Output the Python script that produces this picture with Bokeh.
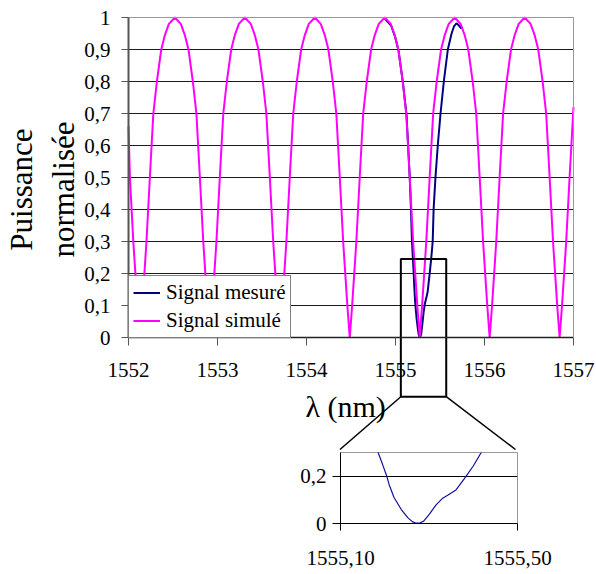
import math
from bokeh.plotting import figure
from bokeh.layouts import column, row
from bokeh.models import (FixedTicker, LinearAxis, Legend, LegendItem, Range1d,
                          ColumnDataSource, Grid, Label, Spacer)
from bokeh.embed import file_html
from bokeh.resources import INLINE

# ---------------- data ----------------
# Simulated signal (magenta)
sim_x = [
    1552.000, 1552.016, 1552.054, 1552.101,
    1552.128, 1552.155, 1552.202, 1552.240, 1552.279, 1552.319, 1552.368, 1552.409, 1552.454,
    1552.521, 1552.588, 1552.633, 1552.674, 1552.723, 1552.763, 1552.802, 1552.840, 1552.887,
    1552.914, 1552.941, 1552.988, 1553.026, 1553.065, 1553.105, 1553.154, 1553.195, 1553.240,
    1553.307, 1553.374, 1553.419, 1553.460, 1553.509, 1553.549, 1553.588, 1553.626, 1553.673,
    1553.700, 1553.727, 1553.774, 1553.812, 1553.851, 1553.891, 1553.940, 1553.981, 1554.026,
    1554.093, 1554.160, 1554.205, 1554.246, 1554.295, 1554.335, 1554.374, 1554.412, 1554.459,
    1554.486, 1554.513, 1554.560, 1554.598, 1554.637, 1554.677, 1554.726, 1554.767, 1554.812,
    1554.879, 1554.946, 1554.991, 1555.032, 1555.081, 1555.121, 1555.160, 1555.198, 1555.245,
    1555.272, 1555.299, 1555.346, 1555.384, 1555.423, 1555.463, 1555.512, 1555.553, 1555.598,
    1555.665, 1555.732, 1555.777, 1555.818, 1555.867, 1555.907, 1555.946, 1555.984, 1556.031,
    1556.058, 1556.085, 1556.132, 1556.170, 1556.209, 1556.249, 1556.298, 1556.339, 1556.384,
    1556.451, 1556.518, 1556.563, 1556.604, 1556.653, 1556.693, 1556.732, 1556.770, 1556.817,
    1556.844, 1556.871, 1556.918, 1556.956, 1557.000,
]
sim_y = [
    0.66, 0.50, 0.30, 0.10,
    0.0, 0.10, 0.30, 0.50, 0.70, 0.80, 0.90, 0.945, 0.98,
    1.0, 0.98, 0.945, 0.90, 0.80, 0.70, 0.50, 0.30, 0.10,
    0.0, 0.10, 0.30, 0.50, 0.70, 0.80, 0.90, 0.945, 0.98,
    1.0, 0.98, 0.945, 0.90, 0.80, 0.70, 0.50, 0.30, 0.10,
    0.0, 0.10, 0.30, 0.50, 0.70, 0.80, 0.90, 0.945, 0.98,
    1.0, 0.98, 0.945, 0.90, 0.80, 0.70, 0.50, 0.30, 0.10,
    0.0, 0.10, 0.30, 0.50, 0.70, 0.80, 0.90, 0.945, 0.98,
    1.0, 0.98, 0.945, 0.90, 0.80, 0.70, 0.50, 0.30, 0.10,
    0.0, 0.10, 0.30, 0.50, 0.70, 0.80, 0.90, 0.945, 0.98,
    1.0, 0.98, 0.945, 0.90, 0.80, 0.70, 0.50, 0.30, 0.10,
    0.0, 0.10, 0.30, 0.50, 0.70, 0.80, 0.90, 0.945, 0.98,
    1.0, 0.98, 0.945, 0.90, 0.80, 0.70, 0.50, 0.30, 0.10,
    0.0, 0.10, 0.30, 0.50, 0.72,
]

# Measured signal (navy)
mes_x = [1554.885, 1554.950, 1554.995, 1555.035, 1555.084, 1555.124, 1555.142, 1555.160,
         1555.174, 1555.185, 1555.195, 1555.204, 1555.210, 1555.221, 1555.237, 1555.252,
         1555.262, 1555.270, 1555.280, 1555.288, 1555.301, 1555.316, 1555.331, 1555.343,
         1555.361, 1555.380, 1555.400, 1555.418, 1555.428, 1555.449, 1555.475, 1555.506,
         1555.543, 1555.588, 1555.630, 1555.657, 1555.685, 1555.713, 1555.742]
mes_y = [0.995, 0.975, 0.94, 0.895, 0.795, 0.695, 0.60, 0.50,
         0.40, 0.30, 0.25, 0.203, 0.164, 0.11, 0.06, 0.025,
         0.008, 0.002, 0.003, 0.01, 0.04, 0.079, 0.107, 0.12,
         0.142, 0.19, 0.243, 0.30, 0.40, 0.50, 0.60, 0.70,
         0.80, 0.90, 0.95, 0.972, 0.982, 0.975, 0.965]

series_labels = ["Signal mesuré", "Signal simulé"]
y_title = "Puissance\nnormalisée"
x_title = "λ (nm)"

x_ticks = [1552, 1553, 1554, 1555, 1556, 1557]
x_tick_labels = ["1552", "1553", "1554", "1555", "1556", "1557"]
y_ticks = [0, 0.1, 0.2, 0.3, 0.4, 0.5, 0.6, 0.7, 0.8, 0.9, 1.0]
y_tick_labels = ["0", "0,1", "0,2", "0,3", "0,4", "0,5", "0,6", "0,7", "0,8", "0,9", "1"]

inset_x_ticks = [1555.1, 1555.5]
inset_x_tick_labels = ["1555,10", "1555,50"]
inset_y_ticks = [0, 0.2]
inset_y_tick_labels = ["0", "0,2"]

# zoom box annotation (main chart coordinates) and connector ends
zoom_left, zoom_right, zoom_bottom, zoom_top = 1555.06, 1555.57, -0.185, 0.245
conn_left_x, conn_right_x, conn_y = 1554.376, 1556.348, -0.35

FONT = "Liberation Serif"
BLUE = "#000080"
MAGENTA = "#FF00FF"

# ---------------- main chart (frame covers the whole figure) ----------------
PX_PER_NM, PX_PER_UNIT = 89.0, 320.0
W, H = 596, 452
x0 = x_ticks[0] - 128 / PX_PER_NM
y0 = y_ticks[0] - (H - 337) / PX_PER_UNIT
p = figure(width=W, height=H,
           x_range=Range1d(x0, x0 + W / PX_PER_NM),
           y_range=Range1d(y0, y0 + H / PX_PER_UNIT),
           output_backend="svg", toolbar_location=None,
           x_axis_location=None, y_axis_location=None,
           min_border_left=0, min_border_right=0, min_border_top=0, min_border_bottom=0,
           outline_line_color=None, background_fill_color="white", border_fill_color="white")
for g in p.grid:
    g.visible = False

xmin, xmax = x_ticks[0], x_ticks[-1]
ymin, ymax = y_ticks[0], y_ticks[-1]

# horizontal grid lines, within the plot area only
p.segment(x0=[xmin] * (len(y_ticks) - 2), x1=[xmax] * (len(y_ticks) - 2),
          y0=y_ticks[1:-1], y1=y_ticks[1:-1], line_color="#1a1a1a", line_width=1)

yaxis = LinearAxis(ticker=FixedTicker(ticks=y_ticks), bounds=(ymin, ymax), fixed_location=xmin,
                   major_label_overrides=dict(zip(y_ticks, y_tick_labels)),
                   major_label_text_font=FONT, major_label_text_font_size="21px",
                   major_label_text_color="black", major_label_standoff=11,
                   axis_line_color="#555555", axis_line_width=2,
                   major_tick_line_color="#555555", major_tick_out=7, major_tick_in=0,
                   minor_tick_line_color=None)
p.add_layout(yaxis, "left")

xaxis = LinearAxis(ticker=FixedTicker(ticks=x_ticks), bounds=(xmin, xmax), fixed_location=ymin,
                   major_label_overrides=dict(zip(x_ticks, x_tick_labels)),
                   major_label_text_font=FONT, major_label_text_font_size="21px",
                   major_label_text_color="black", major_label_standoff=17,
                   axis_line_color="#222222", axis_line_width=1.5,
                   major_tick_line_color="#555555", major_tick_out=8, major_tick_in=0,
                   minor_tick_line_color=None)
p.add_layout(xaxis, "below")

for side, bnds, loc in (("right", (ymin, ymax), xmax), ("above", (xmin, xmax), ymax)):
    ax = LinearAxis(ticker=FixedTicker(ticks=[]), bounds=bnds, fixed_location=loc,
                    axis_line_color="#999999", axis_line_width=1,
                    major_tick_line_color=None, minor_tick_line_color=None,
                    major_label_text_font_size="0px")
    p.add_layout(ax, side)

mes_src = ColumnDataSource(dict(x=mes_x, y=mes_y))
sim_src = ColumnDataSource(dict(x=sim_x, y=sim_y))
r_mes = p.line("x", "y", source=mes_src, line_color=BLUE, line_width=2)
r_sim = p.line("x", "y", source=sim_src, line_color=MAGENTA, line_width=2)

# zoom rectangle and connectors
p.quad(left=[zoom_left], right=[zoom_right], bottom=[zoom_bottom], top=[zoom_top],
       fill_color=None, line_color="black", line_width=2)
p.segment(x0=[zoom_left, zoom_right], y0=[zoom_bottom, zoom_bottom],
          x1=[conn_left_x, conn_right_x], y1=[conn_y, conn_y],
          line_color="black", line_width=1.5)

# axis titles
p.add_layout(Label(x=xmin, y=0.4625, x_offset=-86, text=y_title, angle=math.pi / 2,
                   text_align="center", text_baseline="middle",
                   text_font=FONT, text_font_size="31px", text_color="black",
                   text_line_height=1.2))
p.add_layout(Label(x=1554.44, y=ymin, y_offset=-69, text=x_title,
                   text_align="center", text_baseline="middle",
                   text_font=FONT, text_font_size="30px", text_color="black"))

legend = Legend(items=[LegendItem(label=series_labels[0], renderers=[r_mes]),
                       LegendItem(label=series_labels[1], renderers=[r_sim])],
                location=(128, 114), orientation="vertical",
                label_text_font=FONT, label_text_font_size="21px", label_text_color="black",
                glyph_width=27, glyph_height=25, label_height=25, label_standoff=6,
                spacing=3, padding=4, margin=0,
                border_line_color="black", border_line_width=1,
                background_fill_color="white", background_fill_alpha=1)
p.add_layout(legend)

# ---------------- inset ----------------
q = figure(width=338, height=121,
           x_range=Range1d(inset_x_ticks[0], inset_x_ticks[-1]), y_range=Range1d(0, 0.3),
           output_backend="svg", toolbar_location=None,
           x_axis_location=None, y_axis_location=None,
           min_border_left=82, min_border_right=79, min_border_top=0, min_border_bottom=50,
           outline_line_color="#999999", background_fill_color="white",
           border_fill_color="white")
for g in q.grid:
    g.visible = False

qy = LinearAxis(ticker=FixedTicker(ticks=inset_y_ticks),
                major_label_overrides=dict(zip(inset_y_ticks, inset_y_tick_labels)),
                major_label_text_font=FONT, major_label_text_font_size="21px",
                major_label_text_color="black", major_label_standoff=6,
                axis_line_color="black", axis_line_width=1,
                major_tick_line_color="black", major_tick_out=8, major_tick_in=0,
                minor_tick_line_color=None)
q.add_layout(qy, "left")
qx = LinearAxis(ticker=FixedTicker(ticks=inset_x_ticks),
                major_label_overrides=dict(zip(inset_x_ticks, inset_x_tick_labels)),
                major_label_text_font=FONT, major_label_text_font_size="21px",
                major_label_text_color="black", major_label_standoff=20,
                axis_line_color="black", axis_line_width=1,
                major_tick_line_color="black", major_tick_out=7, major_tick_in=0,
                minor_tick_line_color=None)
q.add_layout(qx, "below")
q.add_layout(Grid(dimension=1, ticker=FixedTicker(ticks=inset_y_ticks),
                  grid_line_color="black", grid_line_width=1))
q.line("x", "y", source=ColumnDataSource(dict(x=mes_x, y=mes_y)),
       line_color="#1010a0", line_width=1.2)

layout = column(p, row(Spacer(width=258, height=121), q, spacing=0), spacing=0)
open("out.html", "w").write(file_html(layout, INLINE))
